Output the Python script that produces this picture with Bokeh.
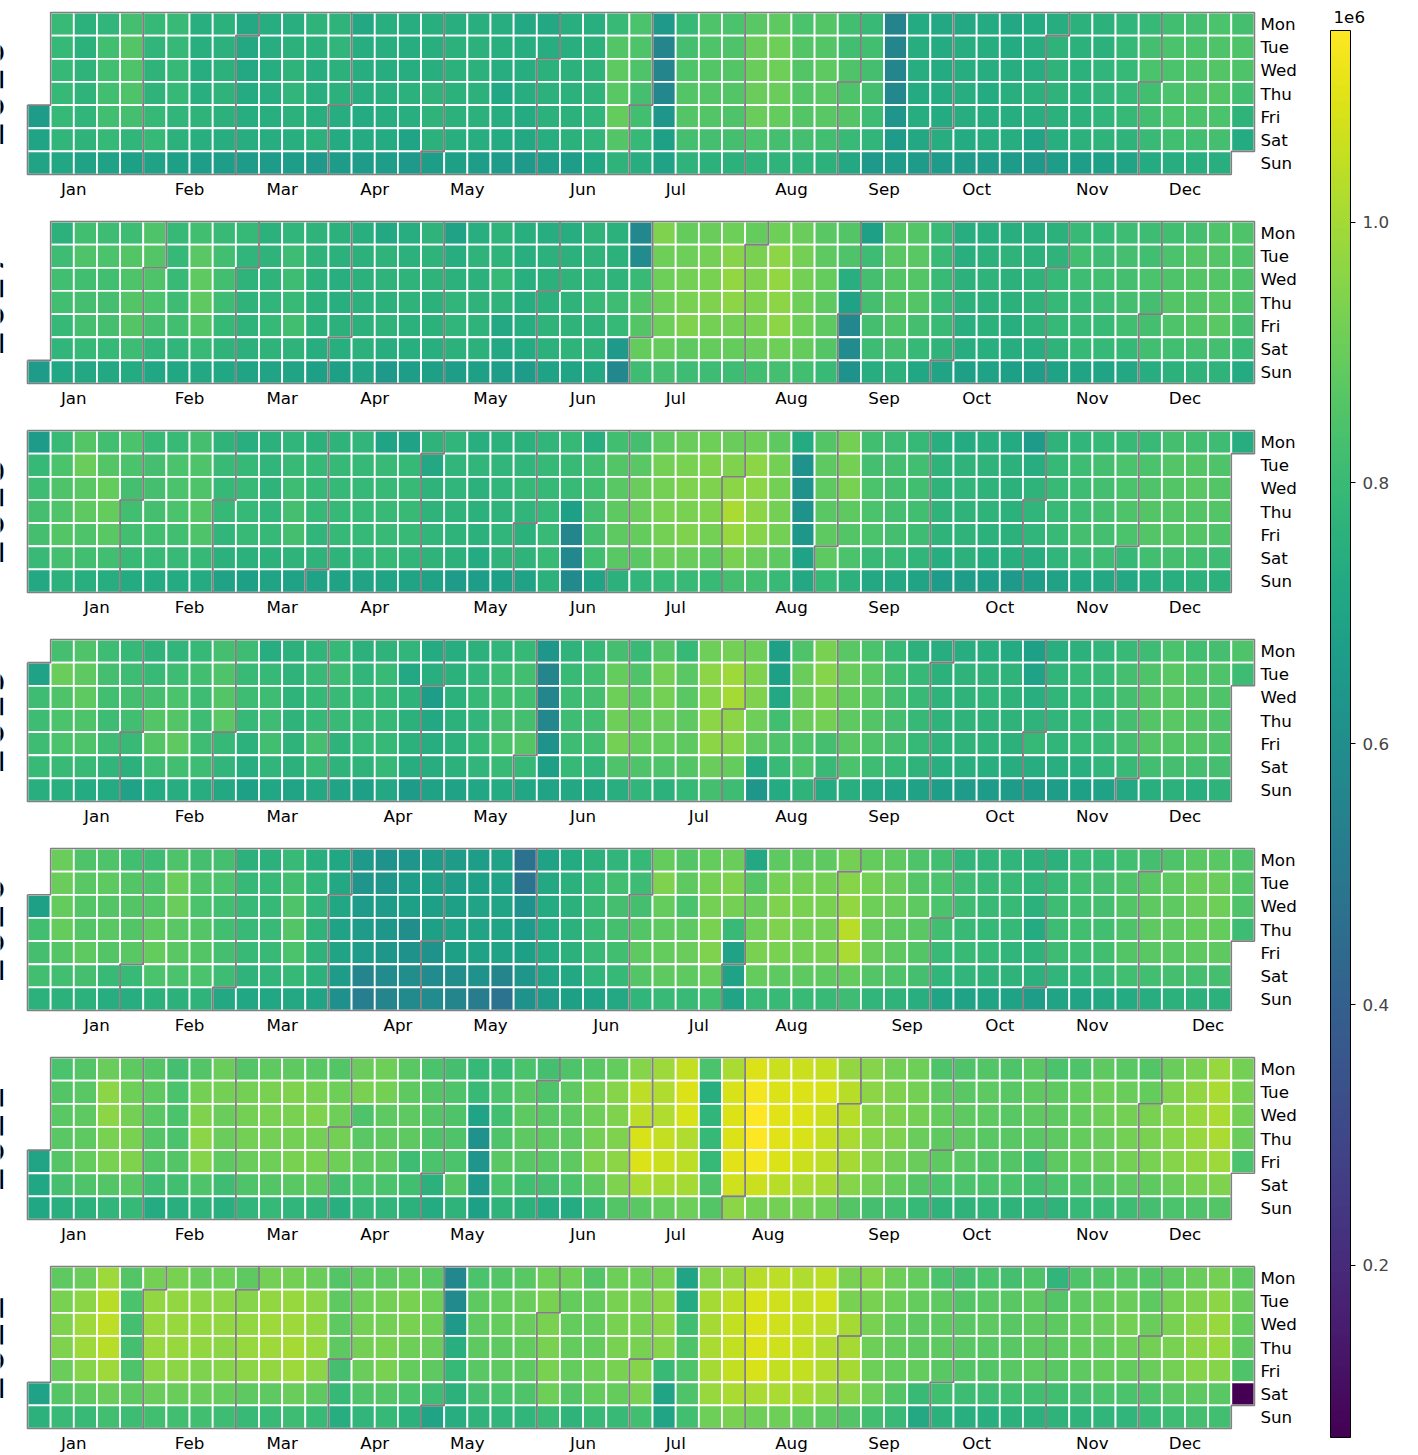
import math
import datetime as dt
from bokeh.plotting import figure
from bokeh.models import ColumnDataSource, LinearColorMapper, ColorBar, FixedTicker, Range1d
from bokeh.palettes import Viridis256
from bokeh.transform import transform
from bokeh.core.properties import value
from bokeh.embed import file_html
from bokeh.resources import INLINE

YEARS = [2016, 2017, 2018, 2019, 2020, 2021, 2022]
DAY_LABELS = ["Mon", "Tue", "Wed", "Thu", "Fri", "Sat", "Sun"]
MONTH_LABELS = ["Jan", "Feb", "Mar", "Apr", "May", "Jun", "Jul", "Aug", "Sep", "Oct", "Nov", "Dec"]
CBAR_TICKS = [200000.0, 400000.0, 600000.0, 800000.0, 1000000.0]
CBAR_LABELS = ["0.2", "0.4", "0.6", "0.8", "1.0"]
CBAR_OFFSET = "1e6"

# daily values (thousands), one inner list per calendar week (Mon..Sun), in date order
V2016 = [
    [660, 700, 700],
    [800, 790, 790, 790, 790, 780, 710], [760, 760, 770, 770, 780, 770, 690], [780, 820, 820, 820, 820, 790, 690],
    [830, 860, 850, 850, 830, 780, 680], [790, 780, 770, 770, 790, 790, 690], [800, 790, 790, 790, 780, 760, 680],
    [750, 750, 740, 750, 770, 750, 670], [760, 760, 760, 770, 760, 740, 670], [720, 720, 720, 730, 740, 740, 660],
    [740, 740, 740, 740, 750, 740, 660], [750, 760, 770, 780, 760, 750, 670], [770, 760, 740, 750, 750, 760, 650],
    [770, 780, 760, 760, 740, 730, 660], [720, 740, 740, 740, 730, 730, 660], [750, 750, 740, 750, 740, 730, 670],
    [740, 740, 740, 760, 750, 700, 650], [750, 750, 750, 770, 770, 760, 670], [750, 760, 760, 760, 760, 750, 680],
    [750, 760, 760, 760, 760, 740, 670], [740, 750, 740, 710, 740, 730, 660], [720, 740, 740, 740, 730, 720, 650],
    [720, 740, 760, 760, 760, 740, 670], [750, 750, 760, 760, 760, 760, 670], [750, 760, 770, 770, 780, 780, 710],
    [800, 860, 880, 870, 890, 860, 770], [840, 850, 850, 830, 820, 790, 740], [650, 560, 560, 570, 640, 680, 690],
    [790, 830, 850, 860, 860, 830, 770], [850, 850, 860, 860, 860, 830, 760], [840, 850, 860, 860, 850, 830, 760],
    [870, 900, 900, 900, 900, 840, 770], [880, 910, 910, 900, 890, 830, 770], [840, 860, 860, 860, 860, 830, 770],
    [860, 860, 880, 870, 870, 820, 760], [820, 820, 850, 850, 860, 800, 720], [800, 820, 830, 830, 810, 780, 650],
    [550, 560, 560, 570, 630, 660, 660], [730, 740, 740, 730, 740, 720, 660], [720, 730, 730, 730, 730, 740, 660],
    [720, 740, 740, 740, 740, 730, 660], [730, 740, 740, 730, 740, 740, 660], [720, 730, 740, 750, 740, 740, 660],
    [730, 740, 740, 760, 750, 700, 650], [740, 770, 770, 770, 760, 750, 670], [760, 760, 760, 760, 760, 760, 670],
    [760, 760, 780, 780, 780, 770, 680], [780, 790, 790, 790, 790, 770, 700], [790, 830, 840, 820, 820, 800, 730],
    [820, 840, 840, 840, 840, 820, 740], [830, 840, 850, 850, 840, 820, 750], [840, 850, 860, 860, 840, 830, 750],
    [830, 850, 850, 820, 770, 730],
]
V2017 = [
    [660],
    [760, 810, 820, 820, 790, 780, 710], [820, 850, 820, 830, 830, 790, 720], [810, 840, 820, 830, 830, 790, 720],
    [810, 860, 850, 860, 860, 810, 730], [850, 860, 850, 840, 830, 780, 710], [790, 790, 800, 810, 820, 780, 710],
    [820, 870, 880, 880, 860, 800, 720], [800, 820, 820, 810, 790, 770, 710], [790, 780, 770, 770, 770, 760, 700],
    [760, 770, 770, 780, 790, 770, 700], [780, 810, 810, 800, 820, 770, 700], [770, 770, 760, 760, 760, 740, 680],
    [760, 760, 750, 750, 760, 750, 680], [750, 760, 760, 760, 760, 760, 700], [720, 770, 770, 760, 770, 740, 650],
    [740, 760, 770, 770, 760, 750, 670], [770, 770, 770, 760, 760, 750, 680], [690, 740, 760, 780, 780, 760, 670],
    [750, 770, 760, 770, 770, 760, 680], [770, 770, 790, 770, 720, 720, 670], [750, 750, 750, 740, 740, 730, 660],
    [740, 760, 760, 760, 770, 760, 690], [740, 760, 770, 770, 770, 770, 700], [770, 770, 780, 800, 770, 770, 720],
    [760, 760, 770, 810, 790, 650, 570], [570, 590, 800, 860, 860, 890, 810], [940, 910, 910, 910, 910, 890, 830],
    [890, 910, 920, 930, 940, 880, 810], [900, 920, 930, 940, 920, 890, 810], [910, 950, 970, 960, 920, 890, 810],
    [890, 930, 940, 940, 930, 900, 820], [910, 960, 970, 960, 960, 910, 830], [900, 920, 920, 910, 910, 890, 820],
    [870, 880, 890, 880, 880, 860, 800], [860, 850, 750, 690, 570, 590, 620], [680, 810, 830, 830, 830, 810, 740],
    [860, 870, 860, 860, 850, 830, 760], [860, 870, 860, 860, 830, 790, 710], [800, 800, 800, 800, 800, 770, 700],
    [740, 750, 760, 760, 750, 740, 680], [750, 760, 770, 760, 760, 750, 690], [750, 770, 760, 760, 750, 740, 680],
    [750, 760, 770, 770, 770, 740, 670], [760, 770, 790, 790, 790, 770, 690], [800, 820, 810, 800, 800, 790, 700],
    [790, 810, 820, 810, 800, 790, 700], [810, 830, 830, 830, 820, 790, 720], [810, 820, 840, 830, 830, 820, 740],
    [820, 840, 850, 860, 850, 820, 760], [830, 860, 860, 860, 860, 830, 770], [850, 860, 860, 870, 870, 830, 770],
    [850, 850, 850, 850, 830, 800, 730],
]
V2018 = [
    [660, 790, 810, 830, 830, 800, 720], [800, 840, 850, 850, 860, 830, 760], [860, 900, 870, 880, 850, 820, 750],
    [820, 860, 890, 890, 870, 820, 740], [840, 840, 830, 820, 820, 800, 730], [800, 830, 830, 830, 820, 800, 730],
    [800, 840, 840, 840, 820, 800, 730], [830, 850, 850, 860, 850, 790, 730], [770, 800, 790, 790, 780, 760, 690],
    [750, 790, 800, 790, 800, 760, 680], [760, 780, 770, 780, 790, 760, 700], [780, 800, 810, 830, 830, 770, 690],
    [760, 790, 790, 790, 780, 770, 690], [770, 790, 790, 790, 790, 770, 690], [780, 790, 790, 790, 790, 780, 700],
    [700, 800, 800, 800, 800, 790, 700], [690, 790, 800, 800, 800, 780, 700], [770, 720, 770, 770, 780, 770, 690],
    [780, 780, 780, 770, 770, 760, 660], [750, 780, 760, 760, 760, 730, 670], [760, 780, 780, 770, 780, 770, 680],
    [760, 780, 790, 780, 760, 770, 690], [780, 790, 790, 790, 800, 800, 760], [790, 800, 800, 680, 560, 570, 580],
    [750, 820, 820, 830, 830, 820, 700], [820, 860, 870, 880, 880, 870, 760], [830, 870, 900, 900, 890, 870, 780],
    [880, 920, 920, 930, 920, 900, 790], [900, 930, 940, 930, 940, 900, 800], [910, 940, 940, 940, 920, 880, 800],
    [900, 940, 960, 1010, 980, 930, 830], [910, 960, 960, 960, 950, 900, 820], [880, 920, 920, 920, 920, 880, 800],
    [730, 620, 620, 620, 640, 690, 720], [860, 880, 880, 870, 880, 880, 790], [920, 920, 930, 880, 860, 840, 760],
    [820, 830, 840, 840, 840, 800, 720], [810, 830, 830, 830, 830, 800, 720], [790, 820, 820, 820, 810, 780, 700],
    [750, 770, 770, 770, 770, 740, 660], [730, 770, 780, 770, 770, 760, 670], [750, 770, 770, 770, 760, 740, 670],
    [730, 760, 760, 760, 760, 750, 650], [660, 740, 770, 780, 780, 740, 670], [770, 790, 800, 800, 800, 780, 690],
    [780, 810, 810, 810, 830, 800, 710], [790, 830, 830, 830, 830, 810, 720], [800, 840, 840, 850, 840, 790, 720],
    [800, 840, 850, 860, 860, 820, 740], [830, 860, 860, 860, 860, 830, 750], [820, 860, 870, 860, 860, 820, 760],
    [810, 850, 860, 860, 850, 810, 760],
    [740],
]
V2019 = [
    [690, 810, 810, 810, 800, 750],
    [830, 900, 850, 840, 840, 800, 750], [850, 880, 880, 850, 850, 800, 730], [810, 830, 820, 810, 810, 780, 730],
    [790, 810, 830, 820, 800, 760, 690], [770, 800, 830, 860, 860, 810, 730], [780, 810, 840, 860, 880, 820, 740],
    [790, 820, 810, 810, 810, 810, 740], [830, 850, 860, 870, 790, 780, 720], [810, 800, 810, 790, 760, 740, 680],
    [740, 790, 810, 810, 820, 780, 710], [760, 770, 770, 770, 770, 760, 700], [780, 800, 790, 790, 830, 800, 720],
    [790, 810, 800, 800, 770, 770, 700], [760, 780, 790, 790, 790, 770, 680], [770, 800, 790, 790, 790, 790, 720],
    [780, 720, 770, 760, 760, 740, 660], [730, 750, 670, 720, 740, 740, 690], [740, 760, 760, 760, 760, 760, 690],
    [760, 780, 790, 780, 790, 780, 710], [780, 810, 820, 830, 840, 800, 730], [790, 820, 820, 830, 860, 790, 710],
    [640, 560, 560, 570, 620, 680, 700], [770, 800, 810, 810, 810, 790, 720], [790, 820, 830, 820, 820, 780, 720],
    [830, 890, 910, 910, 920, 850, 750], [800, 850, 880, 890, 890, 850, 780], [860, 920, 920, 900, 890, 850, 760],
    [790, 870, 870, 880, 880, 860, 790], [910, 960, 950, 960, 960, 900, 830], [920, 990, 1000, 960, 950, 890, 810],
    [910, 940, 940, 910, 880, 720, 640], [680, 680, 720, 820, 850, 800, 730], [850, 900, 900, 900, 850, 840, 770],
    [930, 950, 930, 920, 830, 800, 730], [870, 900, 890, 880, 870, 840, 750], [840, 870, 870, 860, 850, 810, 720],
    [800, 820, 830, 830, 830, 790, 700], [760, 790, 800, 790, 790, 770, 690], [740, 760, 770, 770, 770, 750, 670],
    [740, 770, 770, 770, 770, 750, 660], [750, 770, 780, 770, 770, 750, 660], [730, 770, 770, 770, 760, 740, 660],
    [680, 690, 750, 770, 790, 740, 660], [750, 780, 780, 780, 780, 750, 670], [760, 790, 790, 790, 790, 750, 680],
    [780, 800, 800, 800, 800, 780, 690], [800, 830, 830, 830, 830, 800, 720], [810, 850, 860, 860, 860, 820, 750],
    [840, 870, 870, 870, 860, 830, 760], [820, 850, 860, 860, 860, 830, 750], [830, 850, 850, 850, 850, 830, 770],
    [850, 810],
]
V2020 = [
    [680, 820, 830, 820, 760],
    [900, 900, 890, 890, 860, 820, 760], [850, 870, 860, 860, 880, 830, 760], [850, 880, 860, 870, 860, 800, 740],
    [820, 860, 860, 860, 870, 800, 740], [810, 850, 860, 880, 890, 840, 760], [850, 900, 900, 870, 870, 840, 760],
    [830, 850, 840, 860, 860, 840, 770], [830, 840, 820, 820, 830, 810, 720], [760, 790, 800, 800, 800, 770, 710],
    [760, 790, 790, 800, 800, 780, 710], [800, 820, 850, 860, 840, 790, 720], [750, 780, 780, 770, 770, 760, 700],
    [710, 720, 710, 690, 700, 660, 610], [650, 630, 660, 660, 660, 560, 530], [620, 640, 660, 640, 640, 590, 560],
    [630, 670, 680, 600, 620, 600, 580], [660, 680, 680, 680, 620, 590, 590], [660, 670, 680, 690, 680, 600, 560],
    [670, 680, 700, 700, 690, 620, 520], [690, 690, 700, 700, 690, 560, 480], [470, 480, 620, 660, 680, 640, 620],
    [690, 720, 730, 730, 730, 700, 660], [730, 760, 760, 760, 760, 720, 680], [760, 790, 800, 800, 800, 780, 690],
    [780, 820, 830, 830, 820, 790, 720], [790, 810, 830, 860, 880, 860, 780], [890, 940, 890, 880, 890, 880, 800],
    [860, 880, 840, 880, 900, 880, 800], [890, 920, 920, 930, 940, 900, 820], [900, 940, 920, 800, 690, 690, 700],
    [720, 860, 900, 910, 930, 890, 800], [880, 920, 940, 940, 930, 880, 800], [880, 920, 930, 920, 920, 880, 800],
    [880, 920, 930, 920, 930, 880, 800], [920, 950, 970, 1030, 1010, 890, 810], [890, 920, 910, 900, 900, 860, 780],
    [880, 900, 900, 880, 880, 850, 770], [850, 860, 880, 870, 860, 830, 750], [820, 840, 840, 820, 800, 780, 700],
    [780, 810, 810, 800, 800, 780, 690], [780, 800, 800, 790, 790, 770, 700], [780, 800, 800, 790, 780, 770, 690],
    [760, 780, 760, 730, 770, 760, 670], [760, 800, 810, 810, 810, 780, 700], [800, 820, 820, 820, 810, 780, 700],
    [800, 830, 830, 820, 820, 800, 720], [820, 850, 860, 850, 860, 820, 730], [830, 870, 880, 880, 870, 820, 740],
    [850, 880, 880, 880, 870, 830, 760], [870, 900, 900, 890, 880, 830, 760], [870, 900, 910, 890, 880, 830, 760],
    [850, 860, 850, 810],
]
V2021 = [
    [700, 710, 710],
    [840, 860, 870, 870, 860, 830, 750], [860, 870, 880, 880, 890, 850, 760], [900, 960, 960, 930, 930, 860, 780],
    [880, 910, 920, 930, 940, 870, 790], [860, 880, 870, 860, 860, 810, 730], [830, 840, 840, 840, 860, 820, 750],
    [860, 920, 940, 960, 950, 850, 770], [900, 920, 900, 900, 880, 810, 750], [860, 920, 920, 920, 900, 850, 780],
    [880, 930, 930, 920, 910, 860, 790], [880, 940, 930, 920, 930, 870, 780], [870, 930, 940, 920, 930, 880, 770],
    [860, 910, 910, 920, 910, 830, 750], [900, 930, 850, 870, 880, 840, 780], [910, 920, 880, 880, 880, 840, 780],
    [870, 880, 880, 880, 810, 820, 760], [840, 860, 860, 850, 840, 760, 730], [830, 850, 850, 850, 840, 860, 770],
    [790, 800, 700, 620, 630, 650, 680], [800, 840, 820, 850, 870, 840, 770], [840, 870, 880, 880, 870, 820, 760],
    [830, 850, 870, 880, 870, 830, 730], [850, 880, 880, 880, 880, 840, 730], [870, 920, 910, 920, 940, 880, 790],
    [890, 950, 940, 940, 960, 940, 860], [950, 1040, 1040, 1080, 1090, 1010, 870], [990, 1020, 1020, 1050, 1060, 1000, 890],
    [1050, 1090, 1080, 1020, 1040, 1000, 910], [840, 750, 780, 790, 790, 850, 860], [1010, 1080, 1090, 1090, 1100, 1070, 960],
    [1090, 1130, 1147, 1147, 1130, 1060, 920], [1060, 1090, 1100, 1100, 1090, 1030, 920], [1060, 1090, 1090, 1080, 1060, 1010, 920],
    [1050, 1080, 1060, 1050, 1040, 1000, 910], [970, 1030, 1030, 1010, 1000, 950, 860], [950, 960, 950, 950, 950, 920, 830],
    [920, 940, 940, 940, 920, 890, 820], [910, 920, 920, 900, 900, 860, 790], [850, 880, 890, 880, 880, 840, 770],
    [850, 870, 880, 880, 870, 840, 770], [860, 880, 880, 870, 860, 840, 780], [850, 870, 870, 870, 860, 840, 770],
    [870, 880, 880, 870, 820, 820, 770], [840, 880, 880, 880, 880, 840, 770], [850, 890, 890, 890, 890, 850, 790],
    [880, 910, 910, 900, 900, 860, 800], [870, 900, 920, 920, 920, 880, 810], [860, 890, 930, 930, 930, 880, 830],
    [900, 940, 950, 950, 950, 900, 840], [930, 970, 980, 980, 970, 930, 850], [980, 1010, 1010, 1010, 990, 940, 860],
    [920, 930, 920, 900, 840],
]
V2022 = [
    [690, 760],
    [880, 930, 940, 940, 900, 860, 800], [900, 960, 990, 990, 950, 880, 800], [990, 1030, 1040, 1030, 990, 900, 820],
    [860, 840, 830, 830, 850, 880, 810], [920, 970, 980, 980, 960, 900, 820], [930, 970, 980, 980, 960, 900, 820],
    [900, 960, 970, 970, 940, 900, 820], [910, 960, 970, 960, 950, 890, 810], [880, 950, 970, 980, 960, 880, 800],
    [920, 970, 990, 990, 970, 880, 800], [920, 980, 990, 1000, 990, 900, 810], [900, 960, 970, 980, 960, 880, 800],
    [860, 880, 880, 880, 830, 790, 740], [880, 910, 920, 920, 900, 850, 780], [880, 920, 920, 930, 930, 860, 790],
    [890, 930, 930, 910, 890, 840, 760], [870, 910, 910, 900, 880, 810, 700], [570, 580, 650, 750, 790, 760, 740],
    [840, 880, 880, 880, 870, 830, 770], [860, 890, 890, 880, 880, 840, 780], [870, 900, 900, 890, 880, 850, 780],
    [910, 930, 930, 930, 930, 910, 800], [910, 890, 890, 890, 890, 860, 770], [860, 890, 890, 890, 910, 890, 800],
    [910, 930, 930, 930, 930, 890, 800], [910, 930, 930, 930, 950, 930, 820], [930, 960, 960, 950, 800, 700, 700],
    [700, 730, 820, 850, 850, 850, 820], [950, 1000, 1000, 1010, 1000, 980, 910], [980, 1040, 1050, 1050, 1050, 1010, 930],
    [1030, 1080, 1090, 1090, 1080, 1010, 910], [1040, 1070, 1070, 1070, 1050, 1010, 910], [1020, 1050, 1050, 1050, 1050, 1000, 890],
    [1040, 1070, 1040, 1020, 1020, 980, 880], [930, 930, 1000, 1000, 1000, 960, 860], [950, 930, 930, 910, 910, 910, 820],
    [910, 910, 890, 890, 890, 860, 800], [890, 890, 880, 880, 890, 800, 720], [840, 880, 880, 880, 870, 820, 760],
    [830, 860, 870, 870, 860, 810, 750], [840, 870, 880, 870, 860, 810, 750], [830, 870, 870, 870, 870, 820, 760],
    [850, 880, 880, 880, 880, 820, 760], [780, 860, 880, 880, 870, 820, 770], [850, 880, 890, 890, 880, 830, 770],
    [860, 890, 900, 890, 890, 840, 780], [870, 900, 920, 910, 890, 840, 780], [860, 880, 900, 920, 900, 850, 790],
    [880, 920, 930, 930, 920, 870, 810], [900, 940, 960, 960, 950, 880, 830], [920, 960, 980, 980, 950, 870, 820],
    [880, 900, 890, 880, 850, 68],
]
WEEKLY = {2016: V2016, 2017: V2017, 2018: V2018, 2019: V2019, 2020: V2020, 2021: V2021, 2022: V2022}

# ---------------- layout (pixels) ----------------
W, H = 1418, 1455
CELL = 23.15          # px per calendar cell
LEFT = 27.0           # px, left edge of week column 0
TOP = 12.0            # px, top of first year panel
STEP = 209.0          # px between year panels
STEP_U = STEP / CELL
FONT_NAME = "DejaVu Sans"
FONT = value(FONT_NAME)
FS = "16.7px"

p = figure(width=W, height=H,
           x_range=Range1d(-LEFT / CELL, (W - LEFT) / CELL),
           y_range=Range1d(-(H - TOP) / CELL, TOP / CELL),
           output_backend="svg", toolbar_location=None,
           x_axis_location=None, y_axis_location=None, min_border=0)
p.outline_line_color = None
p.background_fill_color = "white"
p.border_fill_color = "white"
for g in p.grid:
    g.visible = False

xs, ys, vals = [], [], []
mx, my = [], []
mlx, mly, mltext = [], [], []
dlx, dly, dltext = [], [], []
ylx, yly, yltext = [], [], []

for k, yr in enumerate(YEARS):
    flat = [v for wk in WEEKLY[yr] for v in wk]
    jan1 = dt.date(yr, 1, 1)
    ndays = (dt.date(yr + 1, 1, 1) - jan1).days
    off = jan1.weekday()
    top = -k * STEP_U

    def cell(d, jan1=jan1, off=off):
        i = (d - jan1).days
        return (i + off) // 7, d.weekday()

    for i in range(min(ndays, len(flat))):
        d = jan1 + dt.timedelta(days=i)
        c, r = cell(d)
        xs.append(c + 0.5)
        ys.append(top - r - 0.5)
        vals.append(flat[i] * 1000.0)

    # month outlines
    for m in range(1, 13):
        first = dt.date(yr, m, 1)
        last = (dt.date(yr + 1, 1, 1) if m == 12 else dt.date(yr, m + 1, 1)) - dt.timedelta(days=1)
        c1, r1 = cell(first)
        c2, r2 = cell(last)
        pts = [(c1, r1), (c1 + 1, r1), (c1 + 1, 0), (c2 + 1, 0), (c2 + 1, r2 + 1),
               (c2, r2 + 1), (c2, 7), (c1, 7), (c1, r1)]
        mx.append([a for a, _ in pts])
        my.append([top - b for _, b in pts])

    # month tick labels: ISO week of the 15th (calendar-plot convention)
    for m in range(1, 13):
        w = dt.date(yr, m, 15).isocalendar()[1]
        if m == 1 and w > 50:
            w = 0
        mlx.append(float(w))
        mly.append(top - 7 - 14.5 / CELL)
        mltext.append(MONTH_LABELS[m - 1])

    for r, lab in enumerate(DAY_LABELS):
        dlx.append(53 + 6.0 / CELL)
        dly.append(top - r - 0.5)
        dltext.append(lab)

    ylx.append((-13.0 - LEFT) / CELL)
    yly.append(top - 3.5)
    yltext.append(str(yr))

mapper = LinearColorMapper(palette=Viridis256, low=min(vals), high=max(vals))

src = ColumnDataSource(dict(x=xs, y=ys, v=vals))
p.rect(x="x", y="y", width=1, height=1, source=src,
       fill_color=transform("v", mapper), line_color="white", line_width=1.8)

p.multi_line(mx, my, line_color="#808080", line_width=1.6)

p.text(x=mlx, y=mly, text=mltext, text_font=FONT, text_font_size=FS,
       text_align="center", text_baseline="middle", text_color="black")
p.text(x=dlx, y=dly, text=dltext, text_font=FONT, text_font_size=FS,
       text_align="left", text_baseline="middle", text_color="black")
p.text(x=ylx, y=yly, text=yltext, text_font=FONT, text_font_size="42px",
       text_align="center", text_baseline="alphabetic", angle=math.pi / 2, text_color="black")

# colour-bar offset text ("1e6") above the bar
p.text(x=[(1333.0 - LEFT) / CELL], y=[(TOP - 16.5) / CELL], text=[CBAR_OFFSET],
       text_font=FONT, text_font_size=FS, text_align="left", text_baseline="middle",
       text_color="black")

cb = ColorBar(color_mapper=mapper, location=(1330, 18), orientation="vertical",
              width=20, height=1407, padding=0,
              ticker=FixedTicker(ticks=CBAR_TICKS),
              major_label_overrides=dict(zip(CBAR_TICKS, CBAR_LABELS)),
              major_label_text_font=FONT_NAME, major_label_text_font_size=FS,
              major_tick_in=0, major_tick_out=5, major_tick_line_color="black",
              minor_tick_line_color=None, bar_line_color="black", bar_line_width=1,
              label_standoff=7, background_fill_alpha=0, border_line_color=None)
p.add_layout(cb)

open("out.html", "w").write(file_html(p, INLINE, title="calendar heatmap"))
